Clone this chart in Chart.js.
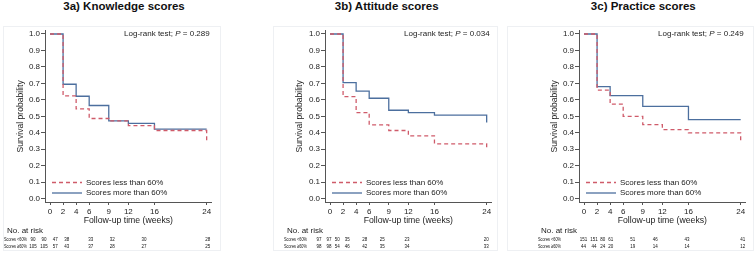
<!DOCTYPE html>
<html><head><meta charset="utf-8">
<script src="https://cdn.jsdelivr.net/npm/chart.js@4"></script>
<style>
body{margin:0;background:#fff;width:755px;height:254px;overflow:hidden;position:relative;font-family:"Liberation Sans",Arial,sans-serif}
.t{position:absolute;top:0;font-weight:bold;font-size:11.5px;line-height:12px;transform:translateX(-50%);white-space:nowrap;color:#111}
canvas{position:absolute;top:0}
.box{position:absolute;border:1px solid #eef0f3;box-sizing:border-box}
</style></head><body>
<div class="box" style="left:3px;top:26px;width:218px;height:225px"></div>
<div class="box" style="left:273px;top:26px;width:225px;height:225px"></div>
<div class="box" style="left:507px;top:26px;width:247px;height:225px"></div>
<div class="t" style="left:124px">3a) Knowledge scores</div>
<div class="t" style="left:386.7px">3b) Attitude scores</div>
<div class="t" style="left:643.3px">3c) Practice scores</div>
<canvas id="c1" width="250" height="254" style="left:0px"></canvas>
<canvas id="c2" width="250" height="254" style="left:250px"></canvas>
<canvas id="c3" width="255" height="254" style="left:500px"></canvas>
<script>
// ---- data ----
const times = [0, 2, 4, 6, 9, 12, 16, 24];
const xTicks = [0, 2, 4, 6, 9, 12, 16, 24];
const yTicks = [0, 0.1, 0.2, 0.3, 0.4, 0.5, 0.6, 0.7, 0.8, 0.9, 1.0];
const seriesNames = ['Scores less than 60%', 'Scores more than 60%'];
const riskRowLabels = ['Scores <60%', 'Scores \u226560%'];

const knowledgeLow  = [1, 0.624, 0.545, 0.487, 0.473, 0.444, 0.414, 0.347];
const knowledgeHigh = [1, 0.695, 0.622, 0.566, 0.473, 0.457, 0.422, 0.422];
const attitudeLow   = [1, 0.620, 0.523, 0.448, 0.414, 0.382, 0.333, 0.310];
const attitudeHigh  = [1, 0.705, 0.653, 0.610, 0.537, 0.523, 0.508, 0.463];
const practiceLow   = [1, 0.659, 0.574, 0.500, 0.450, 0.420, 0.400, 0.350];
const practiceHigh  = [1, 0.680, 0.626, 0.626, 0.560, 0.560, 0.480, 0.480];

const knowledgeRiskLow  = [90, 90, 47, 38, 33, 32, 30, 28];
const knowledgeRiskHigh = [105, 105, 57, 43, 37, 28, 27, 25];
const attitudeRiskLow   = [97, 97, 50, 35, 28, 25, 23, 20];
const attitudeRiskHigh  = [98, 98, 54, 46, 42, 35, 34, 33];
const practiceRiskLow   = [151, 151, 80, 61, 51, 46, 43, 41];
const practiceRiskHigh  = [44, 44, 24, 20, 19, 14, 14, 12];

const pValues = ['0.289', '0.034', '0.249'];

// ---- layout (pixel nudges of the risk-table text relative to the ticks) ----
const riskNudge1 = [-17, -19, -21, -22.5, -18, -16, -10.5, 1];
const riskNudge2 = [-11, -14, -19, -22, -24, -26, -27.5, -0.5];
const riskNudge3 = [-0.5, -3, -7.5, -12.5, -10, -7, -1.5, 2];

// ---- styling ----
const FAM = '"Liberation Sans", Arial, sans-serif';
const RED = '#cf5b6a';
const BLUE = '#4c6f9e';
const TXT = '#222';
const AX = '#555';

function squeezed(ctx, text, x, y, sq) {
  ctx.save(); ctx.translate(x, y); ctx.scale(sq, 1); ctx.fillText(text, 0, 0); ctx.restore();
}

const annot = {
  id: 'annot',
  afterDraw(chart, args, o) {
    const {ctx, chartArea: a, scales: {x}} = chart;
    ctx.save();
    ctx.fillStyle = TXT;
    ctx.textBaseline = 'middle';
    const f = '8px ' + FAM, fi = 'italic 8px ' + FAM;
    const p1 = 'Log-rank test; ', p2 = 'P', p3 = ' = ' + o.p;
    ctx.font = f; const w1 = ctx.measureText(p1).width, w3 = ctx.measureText(p3).width;
    ctx.font = fi; const w2 = ctx.measureText(p2).width;
    let xx = a.right - 2 - (w1 + w2 + w3); const yy = a.top + 3.5;
    ctx.textAlign = 'left';
    ctx.font = f; ctx.fillText(p1, xx, yy); xx += w1;
    ctx.font = fi; ctx.fillText(p2, xx, yy); xx += w2;
    ctx.font = f; ctx.fillText(p3, xx, yy);
    // legend
    chart.data.datasets.forEach((ds, i) => {
      const ly = a.bottom - 19.5 + i * 10.5;
      ctx.strokeStyle = ds.borderColor; ctx.lineWidth = ds.borderWidth;
      ctx.setLineDash(ds.borderDash || []);
      ctx.beginPath(); ctx.moveTo(a.left + 7, ly); ctx.lineTo(a.left + 37, ly); ctx.stroke();
      ctx.setLineDash([]);
      ctx.font = f; ctx.textAlign = 'left';
      ctx.fillText(ds.label, a.left + 41, ly);
    });
    // risk table
    ctx.font = '8px ' + FAM; ctx.textAlign = 'left';
    ctx.fillText('No. at risk', a.left - 38, 231);
    ctx.font = '6px ' + FAM;
    ctx.fillStyle = '#111';
    o.rows.forEach((r, ri) => {
      const ry = 239 + ri * 7.5;
      ctx.textAlign = 'left';
      squeezed(ctx, r.label, a.left - 41, ry, 0.64);
      ctx.textAlign = 'center';
      r.values.forEach((v, k) => squeezed(ctx, String(v), x.getPixelForValue(times[k]) + o.nudge[k], ry, 0.75));
    });
    ctx.restore();
  }
};

function makeChart(id, cfg) {
  new Chart(document.getElementById(id), {
    type: 'line',
    data: {
      datasets: [
        {label: seriesNames[0], data: times.map((t, i) => ({x: t, y: cfg.low[i]})),
         borderColor: RED, borderWidth: 1.3, borderDash: [4, 3], stepped: true, pointRadius: 0, fill: false},
        {label: seriesNames[1], data: times.map((t, i) => ({x: t, y: cfg.high[i]})),
         borderColor: BLUE, borderWidth: 1.3, stepped: true, pointRadius: 0, fill: false}
      ]
    },
    options: {
      responsive: false, animation: false,
      layout: {padding: {top: 30.7, bottom: 27, left: 0, right: cfg.padRight}},
      plugins: {
        legend: {display: false}, tooltip: {enabled: false}, title: {display: false},
        annot: {p: cfg.p, nudge: cfg.nudge, rows: [{label: riskRowLabels[0], values: cfg.riskLow}, {label: riskRowLabels[1], values: cfg.riskHigh}]}
      },
      scales: {
        x: {
          type: 'linear', min: -0.77, max: 24.77,
          afterBuildTicks: s => { s.ticks = xTicks.map(v => ({value: v})); },
          afterFit: s => { s.height = 25; },
          ticks: {font: {size: 8, family: FAM}, color: TXT, padding: 2, maxRotation: 0, autoSkip: false, callback: v => String(v)},
          grid: {display: true, drawOnChartArea: false, drawTicks: true, tickLength: 3, color: AX, tickColor: AX},
          border: {display: true, color: AX, width: 1},
          title: {display: true, text: 'Follow-up time (weeks)', color: TXT, font: {size: 8.7, family: FAM}, padding: {top: 0, bottom: 0.8}}
        },
        y: {
          type: 'linear', min: -0.02, max: 1.02,
          afterBuildTicks: s => { s.ticks = yTicks.map(v => ({value: v})); },
          afterFit: s => { s.width = cfg.yw; },
          ticks: {font: {size: 8, family: FAM}, color: TXT, padding: 1, callback: v => Number(v).toFixed(1)},
          grid: {display: true, drawOnChartArea: false, drawTicks: true, tickLength: 4, color: AX, tickColor: AX},
          border: {display: true, color: AX, width: 1},
          title: {display: true, text: 'Survival probability', color: TXT, font: {size: 8.6, family: FAM}, padding: {top: cfg.ytp, bottom: 0}}
        }
      }
    },
    plugins: [annot]
  });
}

makeChart('c1', {yw: 45, padRight: 38.3, ytp: 15.8, low: knowledgeLow, high: knowledgeHigh, riskLow: knowledgeRiskLow, riskHigh: knowledgeRiskHigh, p: pValues[0], nudge: riskNudge1});
makeChart('c2', {yw: 75, padRight: 8.3, ytp: 44.8, low: attitudeLow, high: attitudeHigh, riskLow: attitudeRiskLow, riskHigh: attitudeRiskHigh, p: pValues[1], nudge: riskNudge2});
makeChart('c3', {yw: 79, padRight: 9.3, ytp: 49.1, low: practiceLow, high: practiceHigh, riskLow: practiceRiskLow, riskHigh: practiceRiskHigh, p: pValues[2], nudge: riskNudge3});
</script>
</body></html>
